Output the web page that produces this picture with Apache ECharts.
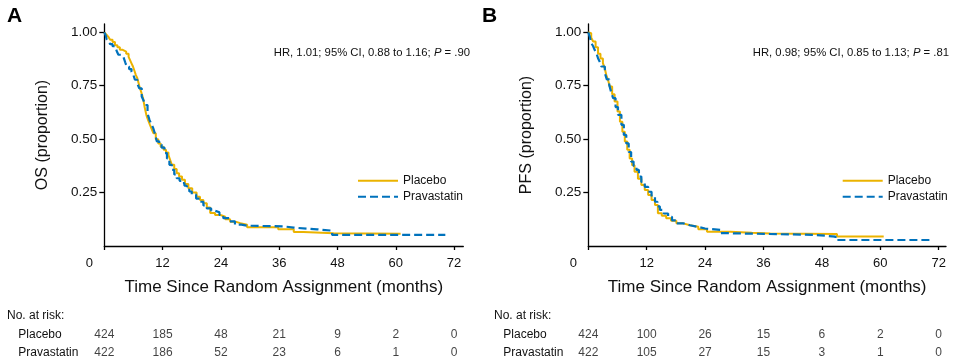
<!DOCTYPE html>
<html>
<head>
<meta charset="utf-8">
<script src="https://cdn.jsdelivr.net/npm/echarts@6/dist/echarts.min.js"></script>
<style>
html,body{margin:0;padding:0;background:#fff;}
#c{width:953px;height:363px;}
</style>
</head>
<body>
<div id="c"></div>
<script>
// ---- Data ----
const xTicks = [0, 12, 24, 36, 48, 60, 72];
const yTicks = [0.25, 0.50, 0.75, 1.00];
const groups = ['Placebo', 'Pravastatin'];

// Overall survival (panel A): [months, proportion]
const osPlacebo = [[0,1.0],[0.4,0.99],[0.8,0.98],[1.2,0.965],[1.7,0.955],[2.2,0.94],[2.7,0.93],[3.2,0.918],[3.8,0.91],[4.5,0.90],[5.0,0.885],[5.3,0.87],[5.6,0.855],[5.9,0.84],[6.2,0.82],[6.5,0.80],[6.8,0.785],[7.2,0.75],[7.6,0.72],[8.0,0.69],[8.3,0.65],[8.7,0.61],[9.0,0.59],[9.4,0.567],[9.8,0.545],[10.1,0.528],[10.6,0.50],[11.1,0.48],[11.6,0.465],[12.2,0.45],[12.7,0.438],[13.2,0.426],[13.6,0.40],[13.9,0.38],[14.4,0.36],[14.9,0.34],[15.4,0.325],[16.0,0.31],[16.6,0.29],[17.3,0.27],[18.1,0.25],[19.0,0.23],[19.7,0.215],[20.4,0.20],[21.1,0.18],[21.8,0.155],[22.8,0.145],[23.9,0.137],[24.9,0.125],[25.9,0.114],[27.0,0.107],[28.0,0.10],[29.4,0.088],[35.8,0.078],[39.0,0.066],[41.0,0.06],[47.2,0.057],[61.0,0.057]];
const osPrava = [[0,1.0],[0.3,0.985],[0.5,0.965],[0.9,0.955],[1.2,0.945],[1.7,0.935],[2.2,0.926],[2.6,0.91],[2.9,0.895],[3.4,0.888],[3.9,0.88],[4.3,0.86],[4.6,0.84],[5.1,0.828],[5.6,0.816],[6.0,0.80],[6.3,0.778],[6.8,0.76],[7.2,0.738],[7.7,0.70],[8.1,0.68],[8.4,0.66],[8.9,0.62],[9.3,0.59],[9.7,0.57],[10.1,0.55],[10.5,0.52],[10.8,0.49],[11.3,0.475],[11.8,0.46],[12.4,0.435],[12.9,0.41],[13.4,0.38],[13.9,0.356],[14.4,0.335],[14.9,0.317],[15.5,0.305],[16.0,0.294],[16.5,0.282],[17.0,0.27],[17.5,0.255],[18.0,0.24],[18.9,0.222],[19.7,0.207],[20.4,0.19],[21.1,0.176],[22.0,0.165],[22.8,0.158],[23.7,0.145],[24.5,0.13],[25.7,0.115],[26.9,0.10],[28.2,0.095],[29.4,0.092],[36.8,0.086],[39.0,0.078],[43.8,0.072],[46.9,0.052],[70.2,0.052]];

// Progression-free survival (panel B)
const pfsPlacebo = [[0,1.0],[0.2,0.996],[0.6,0.975],[1.0,0.957],[1.5,0.93],[2.0,0.90],[2.5,0.878],[3.0,0.856],[3.4,0.83],[3.7,0.80],[4.1,0.773],[4.4,0.746],[4.9,0.71],[5.4,0.676],[6.0,0.63],[6.5,0.582],[7.0,0.535],[7.5,0.489],[8.0,0.45],[8.5,0.41],[9.0,0.378],[9.5,0.348],[10.2,0.315],[10.9,0.286],[11.6,0.262],[12.3,0.239],[13.0,0.215],[13.7,0.192],[14.3,0.153],[15.1,0.142],[16.0,0.13],[17.0,0.118],[18.1,0.106],[19.5,0.097],[20.9,0.09],[22.6,0.078],[24.4,0.067],[29.2,0.062],[33.6,0.059],[37.4,0.056],[51.1,0.044],[60.7,0.044]];
const pfsPrava = [[0,1.0],[0.3,0.98],[0.6,0.95],[1.0,0.935],[1.3,0.918],[1.7,0.90],[2.0,0.879],[2.4,0.86],[2.7,0.84],[3.4,0.809],[3.8,0.78],[4.3,0.754],[4.7,0.72],[5.1,0.692],[5.6,0.65],[6.1,0.614],[6.8,0.567],[7.3,0.52],[7.8,0.48],[8.3,0.44],[8.8,0.395],[9.3,0.375],[9.9,0.356],[10.4,0.325],[10.9,0.30],[11.6,0.277],[12.3,0.254],[13.0,0.23],[13.7,0.207],[14.2,0.185],[14.7,0.169],[15.5,0.152],[16.4,0.137],[17.2,0.12],[18.1,0.106],[19.5,0.097],[20.9,0.09],[22.4,0.082],[24.0,0.075],[27.1,0.06],[28.5,0.052],[46.6,0.044],[50.8,0.028],[70.3,0.028]];

// Numbers at risk
const riskTimes = [0, 12, 24, 36, 48, 60, 72];
const riskOsPlacebo = [424, 185, 48, 21, 9, 2, 0];
const riskOsPrava = [422, 186, 52, 23, 6, 1, 0];
const riskPfsPlacebo = [424, 100, 26, 15, 6, 2, 0];
const riskPfsPrava = [422, 105, 27, 15, 3, 1, 0];

// Hazard ratio annotations
const hrOS = ['1.01', '0.88', '1.16', '.90'];
const hrPFS = ['0.98', '0.85', '1.13', '.81'];

// ---- Styling / layout ----
const FONT = '"Liberation Sans", Arial, sans-serif';
const TXT = '#111';
const YELLOW = '#EBB300';
const BLUE = '#0072BC';

const panels = [
  {left: 104.3, width: 359, xMax: 73.9, yName: 'OS (proportion)', label: 'A', labelX: 7, hr: hrOS, hrRight: 483,
   legendX: 357, risk: [riskOsPlacebo, riskOsPrava], riskTitleX: 7, riskRowX: 18.3, series: [osPlacebo, osPrava]},
  {left: 588.3, width: 357.7, xMax: 73.5, yName: 'PFS (proportion)', label: 'B', labelX: 482, hr: hrPFS, hrRight: 4,
   legendX: 841.7, risk: [riskPfsPlacebo, riskPfsPrava], riskTitleX: 494, riskRowX: 503.3, series: [pfsPlacebo, pfsPrava]}
];

const grid = [], xAxis = [], yAxis = [], series = [], title = [], legend = [];

panels.forEach((p, k) => {
  const gMain = grid.length;
  grid.push({left: p.left, width: p.width, top: 24, height: 222, containLabel: false});
  const gRisk = grid.length;
  grid.push({left: p.left, width: p.width, top: 326, height: 36, containLabel: false});

  xAxis.push({
    type: 'value', gridIndex: gMain, min: 0, max: p.xMax,
    axisLine: {show: true, onZero: false, lineStyle: {color: '#000', width: 1.3}},
    axisTick: {show: true, length: 4, customValues: xTicks, lineStyle: {color: '#000', width: 1.3}},
    axisLabel: {customValues: xTicks, margin: 11, fontSize: 13, color: TXT, fontFamily: FONT,
      formatter: v => v === 0 ? '{z|0}' : String(v),
      rich: {z: {padding: [0, 30, 0, 0], fontSize: 13, color: TXT, fontFamily: FONT}}},
    splitLine: {show: false},
    name: 'Time Since Random Assignment (months)', nameLocation: 'middle', nameGap: 33,
    nameTextStyle: {fontSize: 17, color: TXT, fontFamily: FONT}
  });
  yAxis.push({
    type: 'value', gridIndex: gMain, min: 0, max: 1.039,
    axisLine: {show: true, onZero: false, lineStyle: {color: '#000', width: 1.3}},
    axisTick: {show: true, length: 5, customValues: yTicks, lineStyle: {color: '#000', width: 1.3}},
    axisLabel: {customValues: yTicks, margin: 7, fontSize: 13.5, color: TXT, fontFamily: FONT,
      formatter: v => v.toFixed(2)},
    splitLine: {show: false},
    name: p.yName, nameLocation: 'middle', nameGap: 54, nameRotate: 90,
    nameTextStyle: {fontSize: 16, color: TXT, fontFamily: FONT}
  });
  const xMainIdx = xAxis.length - 1, yMainIdx = yAxis.length - 1;

  xAxis.push({type: 'value', gridIndex: gRisk, min: 0, max: p.xMax, show: false});
  yAxis.push({
    type: 'category', gridIndex: gRisk, data: groups, inverse: true,
    axisLine: {show: false}, axisTick: {show: false}, splitLine: {show: false},
    axisLabel: {align: 'left', margin: p.left - p.riskRowX, fontSize: 12, color: TXT, fontFamily: FONT}
  });
  const xRiskIdx = xAxis.length - 1, yRiskIdx = yAxis.length - 1;

  // survival curves
  series.push({
    name: groups[0], type: 'line', step: 'end', xAxisIndex: xMainIdx, yAxisIndex: yMainIdx,
    data: p.series[0], symbol: 'none', lineStyle: {color: YELLOW, width: 2}, itemStyle: {color: YELLOW},
    z: 3, animation: false
  });
  series.push({
    name: groups[1], type: 'line', step: 'end', xAxisIndex: xMainIdx, yAxisIndex: yMainIdx,
    data: p.series[1], symbol: 'none', lineStyle: {color: BLUE, width: 2.2, type: [8, 4]}, itemStyle: {color: BLUE},
    z: 4, animation: false
  });

  // numbers at risk
  groups.forEach((g, gi) => {
    series.push({
      type: 'scatter', xAxisIndex: xRiskIdx, yAxisIndex: yRiskIdx, symbolSize: 1,
      itemStyle: {color: 'rgba(0,0,0,0)'}, silent: true, animation: false,
      data: riskTimes.map((t, i) => [t, g, p.risk[gi][i]]),
      label: {show: true, position: 'inside', formatter: q => String(q.value[2]), fontSize: 12, color: TXT, fontFamily: FONT}
    });
  });

  title.push({text: p.label, left: p.labelX, top: 6, padding: 0,
    textStyle: {fontSize: 21, fontWeight: 'bold', color: '#000', fontFamily: FONT}});
  title.push({
    text: `{n|HR, ${p.hr[0]}; 95% CI, ${p.hr[1]} to ${p.hr[2]}; }{i|P}{n| = ${p.hr[3]}}`,
    right: p.hrRight, top: 47, padding: 0,
    textStyle: {fontWeight: 'normal', rich: {
      n: {fontSize: 11.3, color: TXT, fontFamily: FONT, fontWeight: 'normal'},
      i: {fontSize: 11.3, color: TXT, fontFamily: FONT, fontWeight: 'normal', fontStyle: 'italic'}
    }}
  });
  title.push({text: 'No. at risk:', left: p.riskTitleX, top: 310, padding: 0,
    textStyle: {fontSize: 12, fontWeight: 'normal', color: TXT, fontFamily: FONT}});

  legend.push({
    data: groups, orient: 'vertical', left: p.legendX, top: 174.7, padding: 0,
    itemWidth: 40, itemHeight: 14, itemGap: 4, selectedMode: false,
    itemStyle: {opacity: 0},
    textStyle: {fontSize: 12, color: TXT, fontFamily: FONT}
  });
});

const chart = echarts.init(document.getElementById('c'), null, {renderer: 'canvas'});
chart.setOption({
  animation: false,
  backgroundColor: '#fff',
  title, legend, grid, xAxis, yAxis, series
});
</script>
</body>
</html>
